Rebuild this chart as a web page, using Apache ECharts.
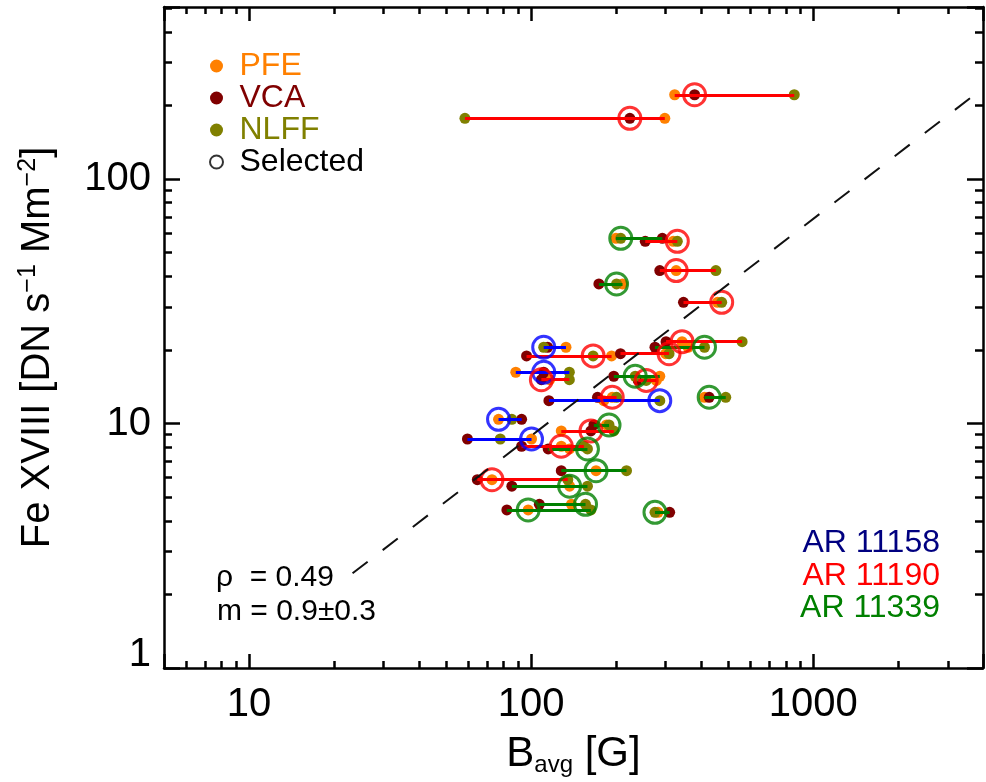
<!DOCTYPE html>
<html><head><meta charset="utf-8">
<script src="https://cdn.jsdelivr.net/npm/echarts@6/dist/echarts.min.js"></script>
<style>html,body{margin:0;padding:0;background:#fff}#c{width:986px;height:782px}</style>
</head><body><div id="c"></div><script>
// ---- axis ranges & ticks ----
const xRange = [5, 4000];
const yRange = [1, 505];
const xTickLabels = [10, 100, 1000];
const yTickLabels = [1, 10, 100];
const xMinorTicks = [6,7,8,9,20,30,40,50,60,70,80,90,200,300,400,500,600,700,800,900,2000,3000];
const yMinorTicks = [2,3,4,5,6,7,8,9,20,30,40,50,60,70,80,90,200,300,400,500];

// ---- AR 11158 (blue) ----
const ar11158Flux = [20.5, 16.2, 12.4, 10.4, 8.64];
const ar11158Pfe  = [133, 88.3, 181, 76.7, 100.4];
const ar11158Vca  = [114.5, 110.9, 115.7, 92.6, 59.5];
const ar11158Nlff = [110.9, 136.7, 286, 85.5, 77.8];
const ar11158Sel  = ['N', 'V', 'N', 'P', 'P'];

// ---- AR 11190 (red) ----
const ar11190Flux = [221, 177, 55.6, 42.2, 31.3, 21.6, 18.9, 19.3, 15.1, 15.0, 12.8, 9.32, 8.07, 5.89];
const ar11190Pfe  = [323, 298, 319, 327, 458, 343, 193, 300, 116.4, 278, 194, 128, 128, 72.7];
const ar11190Vca  = [380, 224, 254, 286, 347, 301, 96.4, 207.5, 108.8, 240, 172, 163, 92.6, 64.5];
const ar11190Nlff = [857, 58.3, 330, 452, 474, 560, 166, 308.5, 136.7, 256, 201, 196.5, 154, 135];
const ar11190Sel  = ['V', 'V', 'N', 'P', 'N', 'P', 'N', 'N', 'V', 'N', 'P', 'V', 'P', 'P'];

// ---- AR 11339 (green) ----
const ar11339Flux = [57.2, 37.2, 20.5, 15.6, 12.8, 9.86, 7.87, 6.41, 5.54, 4.67, 4.43, 4.33];
const ar11339Pfe  = [200, 211, 360, 286, 412, 185, 137, 170, 137, 139, 97.7, 282];
const ar11339Vca  = [292, 174, 275, 196.5, 428, 167, 115, 128, 85.5, 107, 82.1, 310];
const ar11339Nlff = [208, 201, 412, 234, 490, 189, 158.5, 218, 158.5, 156, 163, 275];
const ar11339Sel  = ['N', 'N', 'N', 'N', 'V', 'N', 'N', 'P', 'P', 'N', 'P', 'N'];

// ---- power-law fit (dashed) ----
const fitB    = [23.3, 4000];
const fitFlux = [2.44, 235];
const fitText = ['\u03c1  = 0.49', 'm = 0.9\u00b10.3'];

const FONT = '"Liberation Sans", Arial, Helvetica, sans-serif';
const L = Math.log10;
const ars = [
  {name:'AR 11158', color:'#0000FF', text:'#000080', flux:ar11158Flux, pfe:ar11158Pfe, vca:ar11158Vca, nlff:ar11158Nlff, sel:ar11158Sel},
  {name:'AR 11190', color:'#FF0000', text:'#FF0000', flux:ar11190Flux, pfe:ar11190Pfe, vca:ar11190Vca, nlff:ar11190Nlff, sel:ar11190Sel},
  {name:'AR 11339', color:'#008000', text:'#008000', flux:ar11339Flux, pfe:ar11339Pfe, vca:ar11339Vca, nlff:ar11339Nlff, sel:ar11339Sel}
];
const pfeData = [], vcaData = [], nlffData = [], selData = [], lineSeries = [];
ars.forEach(ar => {
  const segs = [];
  ar.flux.forEach((f, i) => {
    const p = ar.pfe[i], v = ar.vca[i], n = ar.nlff[i];
    pfeData.push([p, f]); vcaData.push([v, f]); nlffData.push([n, f]);
    segs.push({coords: [[Math.min(p, v, n), f], [Math.max(p, v, n), f]]});
    const s = ar.sel[i];
    const sx = s === 'P' ? p : (s === 'V' ? v : n);
    selData.push({value: [sx, f], itemStyle: {borderColor: ar.color}});
  });
  lineSeries.push({
    type: 'lines', name: ar.name, coordinateSystem: 'cartesian2d', xAxisIndex: 0, yAxisIndex: 0,
    polyline: false, silent: true, z: 3, symbol: 'none',
    lineStyle: {color: ar.color, width: 3, opacity: 1, curveness: 0},
    data: segs
  });
});

const axLine = {show: true, onZero: false, lineStyle: {color: '#000', width: 2.5}};
function logX(pos, labels) {
  return {
    type: 'log', logBase: 10, min: xRange[0], max: xRange[1], position: pos, gridIndex: 0,
    axisLine: axLine, splitLine: {show: false},
    axisTick: {show: true, inside: true, length: 14, lineStyle: {color: '#000', width: 2.5}},
    axisLabel: labels ? {show: true, margin: 17, color: '#000', fontSize: 40, fontFamily: FONT,
      formatter: v => xTickLabels.indexOf(Math.round(v)) >= 0 ? String(Math.round(v)) : ''} : {show: false},
    name: labels ? '{b|B}{s|avg}{b| [G]}' : '', nameLocation: 'middle', nameGap: 63,
    nameTextStyle: {rich: {
      b: {fontSize: 42, fontFamily: FONT, color: '#000', lineHeight: 46},
      s: {fontSize: 24, fontFamily: FONT, color: '#000', verticalAlign: 'bottom', lineHeight: 26}
    }}
  };
}
function minorX(pos) {
  return {
    type: 'value', min: L(xRange[0]), max: L(xRange[1]), position: pos, gridIndex: 0,
    axisLine: {show: false, onZero: false}, splitLine: {show: false}, axisLabel: {show: false},
    axisTick: {show: true, inside: true, length: 7, customValues: xMinorTicks.map(L), lineStyle: {color: '#000', width: 2.5}}
  };
}
function logY(pos, labels) {
  return {
    type: 'log', logBase: 10, min: yRange[0], max: yRange[1], position: pos, gridIndex: 0,
    axisLine: axLine, splitLine: {show: false},
    axisTick: {show: true, inside: true, length: 16, lineStyle: {color: '#000', width: 2.5}},
    axisLabel: labels ? {show: true, margin: 13, color: '#000', fontSize: 40, fontFamily: FONT,
      formatter: v => {
        const r = Math.round(v);
        if (yTickLabels.indexOf(r) < 0) return '';
        return r === yTickLabels[0] ? '{low|' + r + '}' : String(r);
      },
      rich: {low: {fontSize: 40, fontFamily: FONT, color: '#000', padding: [0, 0, 26, 0]}}} : {show: false},
    name: labels ? '{t|Fe XVIII [DN s}{u|\u22121}{t| Mm}{u|\u22122}{t|]}' : '',
    nameLocation: 'middle', nameRotate: 90, nameGap: 104,
    nameTextStyle: {padding: [0, 20, 0, 0], rich: {
      t: {fontSize: 40, fontFamily: FONT, color: '#000', lineHeight: 44},
      u: {fontSize: 25, fontFamily: FONT, color: '#000', verticalAlign: 'top', lineHeight: 25}
    }}
  };
}
function minorY(pos) {
  return {
    type: 'value', min: L(yRange[0]), max: L(yRange[1]), position: pos, gridIndex: 0,
    axisLine: {show: false, onZero: false}, splitLine: {show: false}, axisLabel: {show: false},
    axisTick: {show: true, inside: true, length: 8, customValues: yMinorTicks.map(L), lineStyle: {color: '#000', width: 2.5}}
  };
}

const pointSeries = (name, color, data) => ({
  type: 'scatter', name, xAxisIndex: 0, yAxisIndex: 0, data, symbol: 'circle', symbolSize: 11,
  itemStyle: {color, opacity: 1}, z: 2, silent: true
});

const option = {
  animation: false,
  backgroundColor: '#fff',
  grid: {left: 164, right: -8, top: 7, bottom: 112.5, containLabel: false},
  xAxis: [logX('bottom', true), logX('top', false), minorX('top'), minorX('bottom')],
  yAxis: [logY('left', true), logY('right', false), minorY('right'), minorY('left')],
  legend: {
    orient: 'vertical', left: 204, top: 45, itemGap: 0, itemWidth: 36, itemHeight: 13,
    icon: 'circle', selectedMode: false,
    textStyle: {fontSize: 32, fontFamily: FONT},
    data: [
      {name: 'PFE', textStyle: {color: '#FF8000'}},
      {name: 'VCA', textStyle: {color: '#800000'}},
      {name: 'NLFF', textStyle: {color: '#808000'}},
      {name: 'Selected', textStyle: {color: '#000'}, itemStyle: {color: 'rgba(0,0,0,0)', borderColor: '#000', borderWidth: 2}}
    ]
  },
  series: [
    pointSeries('PFE', '#FF8000', pfeData),
    pointSeries('VCA', '#800000', vcaData),
    pointSeries('NLFF', '#808000', nlffData),
    ...lineSeries,
    {type: 'scatter', name: 'Selected', xAxisIndex: 0, yAxisIndex: 0, data: selData, symbol: 'circle', symbolSize: 22,
      itemStyle: {color: 'rgba(0,0,0,0)', borderColor: '#000', borderWidth: 3}, z: 4, silent: true},
    {type: 'line', name: 'fit', xAxisIndex: 0, yAxisIndex: 0, data: fitB.map((b, i) => [b, fitFlux[i]]),
      symbol: 'none', silent: true, z: 5, lineStyle: {color: '#111', width: 2, type: [19, 19]}}
  ],
  graphic: [
    {type: 'text', x: 216, y: 578, style: {text: fitText[0], font: '30px ' + FONT, fill: '#000', verticalAlign: 'middle', align: 'left'}},
    {type: 'text', x: 217, y: 612, style: {text: fitText[1], font: '30px ' + FONT, fill: '#000', verticalAlign: 'middle', align: 'left'}},
    ...ars.map((ar, i) => ({type: 'text', x: 940, y: 543.5 + i * 32.5,
      style: {text: ar.name, font: '32px ' + FONT, fill: ar.text, verticalAlign: 'middle', align: 'right'}}))
  ]
};
const chart = echarts.init(document.getElementById('c'));
chart.setOption(option);
</script></body></html>
